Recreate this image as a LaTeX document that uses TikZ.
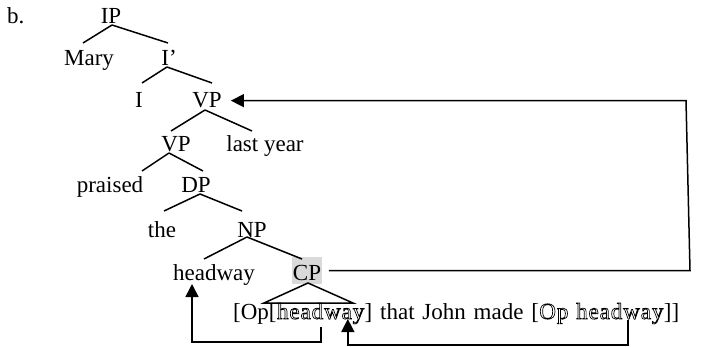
\documentclass[tikz,border=0pt]{standalone}
\usepackage{fontspec}
\setmainfont{Liberation Serif}
\newfontfamily\outfont[LetterSpace=4]{Liberation Serif}
\usetikzlibrary{calc,arrows.meta}
\newcommand\outlinetext[1]{\special{pdf:literal direct 1 Tr 0.7 w}{\outfont #1}\special{pdf:literal direct 0 Tr}}
\newcommand\wsp{\hspace{7.8pt}}
\tikzset{
 lbl/.style={inner sep=0pt, anchor=base, font=\fontsize{23}{27}\selectfont},
 ln/.style={line width=1.5pt},
 arr/.style={line width=1.5pt, -{Triangle[length=13pt,width=13pt]}},
}
\begin{document}
\begin{tikzpicture}[x=1pt,y=-1pt]
\useasboundingbox (0,0) rectangle (706,347);
\node[lbl, anchor=base west] (b) at (7,24) {b.};
\node[lbl] (IP) at (111,24) {IP};
\node[lbl] (Mary) at (89,66) {Mary};
\node[lbl] (Ibar) at (169,66) {I’};
\node[lbl] (I) at (139,108) {I};
\node[lbl] (VPa) at (207,108) {VP};
\node[lbl] (VPb) at (176,152) {VP};
\node[lbl] (ly) at (265,152) {last year};
\node[lbl] (praised) at (110,193) {praised};
\node[lbl] (DP) at (196,193) {DP};
\node[lbl] (the) at (162,237) {the};
\node[lbl] (NP) at (252,237) {NP};
\node[lbl] (hw) at (214,280) {headway};
\node[lbl, fill=gray!30, inner xsep=0.5pt, text height=23pt, text depth=4pt] (CP) at (307,280) {CP};
\node[lbl, anchor=base west] (c1) at (233,319) {[Op[};
\node[lbl, anchor=base west] (h1) at (c1.base east) {\outlinetext{headway}};
\node[lbl, anchor=base west] (c2) at (h1.base east) {]\wsp that\wsp John\wsp made\wsp[};
\node[lbl, anchor=base west] (h2) at (c2.base east) {\outlinetext{Op\wsp headway}};
\node[lbl, anchor=base west] (c3) at (h2.base east) {]]};
\draw[ln] ($(IP.base)+(1,1)$) -- ($(Mary.base)+(-6,-23)$);
\draw[ln] ($(IP.base)+(1,1)$) -- ($(Ibar.base)+(-1,-23)$);
\draw[ln] ($(Ibar.base)+(-2,1)$) -- ($(I.base)+(3,-25)$);
\draw[ln] ($(Ibar.base)+(-2,1)$) -- ($(VPa.base)+(5,-25)$);
\draw[ln] ($(VPa.base)+(-2,2)$) -- ($(VPb.base)+(-5,-21)$);
\draw[ln] ($(VPa.base)+(-2,2)$) -- ($(ly.base)+(-13,-21)$);
\draw[ln] ($(VPb.base)+(-7,1)$) -- ($(praised.base)+(32,-22)$);
\draw[ln] ($(VPb.base)+(-7,1)$) -- ($(DP.base)+(7,-22)$);
\draw[ln] ($(DP.base)+(4,1)$) -- ($(the.base)+(2,-26)$);
\draw[ln] ($(DP.base)+(4,1)$) -- ($(NP.base)+(-10,-26)$);
\draw[ln] ($(NP.base)+(-5,0)$) -- ($(hw.base)+(-10,-21)$);
\draw[ln] ($(NP.base)+(-5,0)$) -- ($(CP.base)+(-5,-21)$);
\draw[ln] ($(CP.base)+(1,3)$) -- ($(CP.base)+(-43,23)$) -- ($(CP.base)+(46,23)$) -- cycle;
\draw[arr] ($(h1.base west)+(44,8)$) -- ++(0,15) -| ($(hw.base)+(-22,4)$);
\draw[arr] ($(h2.base west)+(89,1)$) -- ++(0,25) -| ($(h1.base west)+(71,0)$);
\coordinate (r1) at (690,0);
\coordinate (r2) at (686,0);
\draw[arr] ($(CP.east)+(7,0)$) -- (CP.east -| r1) -- (VPa.east -| r2) -- ($(VPa.east)+(9,0)$);
\end{tikzpicture}
\end{document}
